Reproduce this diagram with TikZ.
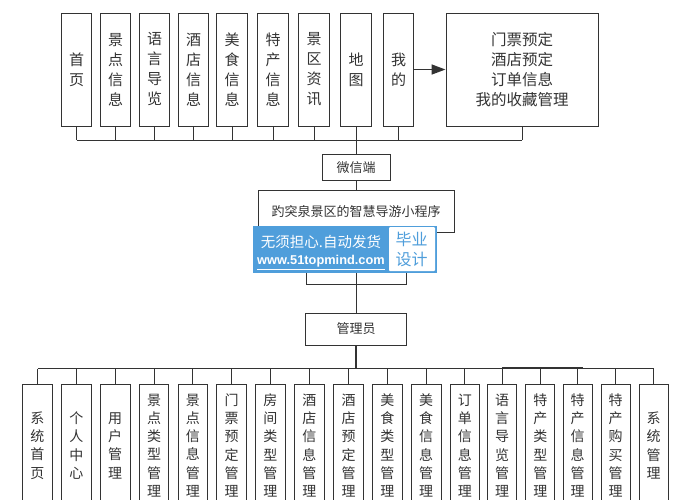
\documentclass[tikz,border=0pt]{standalone}
\usepackage{fontspec}
\setmainfont{Noto Sans CJK SC}
\newfontfamily\urlfont{Liberation Sans}
\usetikzlibrary{arrows.meta}
\definecolor{edge}{HTML}{333333}
\definecolor{wm}{HTML}{4F9EDB}
\tikzset{
  x=1pt,y=-1pt,
  boxbase/.style={draw=edge,line width=1pt,fill=white,inner sep=0pt,align=center,text=black!80},
  topbox/.style={boxbase,minimum height=113pt,font=\fontsize{15}{20}\selectfont},
  botbox/.style={boxbase,minimum height=123pt,font=\fontsize{14}{18.3}\selectfont},
  midbox/.style={boxbase,font=\fontsize{13}{16}\selectfont},
  link/.style={draw=edge,line width=1pt},
  wmtext/.style={inner sep=0pt,text=white}
}
\newcommand{\tb}[4]{\node[topbox,minimum width=#2pt] (#1) at (#3,69.5) {#4};}
\newcommand{\bb}[4]{\node[botbox,minimum width=#2pt] (#1) at (#3,445.5) {#4};}
\begin{document}
\begin{tikzpicture}
\useasboundingbox (0,0) rectangle (691,499);
\clip (0,0) rectangle (691,499);
\fill[white] (0,0) rectangle (691,499);
% top row
\tb{t1}{30.5}{76.5}{首\\页}
\tb{t2}{30.5}{115.5}{景\\点\\信\\息}
\tb{t3}{30.5}{154.5}{语\\言\\导\\览}
\tb{t4}{30.5}{193.5}{酒\\店\\信\\息}
\tb{t5}{30.5}{232}{美\\食\\信\\息}
\tb{t6}{30.5}{273}{特\\产\\信\\息}
\tb{t7}{30.5}{314}{景\\区\\资\\讯}
\tb{t8}{30.5}{356}{地\\图}
\tb{t9}{30.5}{398.5}{我\\的}
\node[topbox,minimum width=152pt,font=\fontsize{15.5}{20}\selectfont] (big) at (522,69.5) {门票预定\\酒店预定\\订单信息\\我的收藏管理};
% middle
\node[midbox,minimum width=68pt,minimum height=26.5pt] (wx) at (356,167.3) {微信端};
\node[midbox,minimum width=196pt,minimum height=41.5pt] (title) at (356,211.4) {趵突泉景区的智慧导游小程序};
\node[midbox,minimum width=100.5pt,minimum height=32pt] (mgr) at (356,329) {管理员};
% bottom row
\bb{b1}{30}{37.5}{系\\统\\首\\页}
\bb{b2}{30}{76.3}{个\\人\\中\\心}
\bb{b3}{30}{115.2}{用\\户\\管\\理}
\bb{b4}{29.5}{154}{景\\点\\类\\型\\管\\理}
\bb{b5}{29.5}{192.8}{景\\点\\信\\息\\管\\理}
\bb{b6}{30}{231.5}{门\\票\\预\\定\\管\\理}
\bb{b7}{29.5}{270.3}{房\\间\\类\\型\\管\\理}
\bb{b8}{29.5}{309.3}{酒\\店\\信\\息\\管\\理}
\bb{b9}{30}{348.5}{酒\\店\\预\\定\\管\\理}
\bb{b10}{30}{387.3}{美\\食\\类\\型\\管\\理}
\bb{b11}{29.7}{426.2}{美\\食\\信\\息\\管\\理}
\bb{b12}{29.5}{464.8}{订\\单\\信\\息\\管\\理}
\bb{b13}{28.5}{502}{语\\言\\导\\览\\管\\理}
\bb{b14}{29.3}{540.3}{特\\产\\类\\型\\管\\理}
\bb{b15}{28.7}{577.7}{特\\产\\信\\息\\管\\理}
\bb{b16}{28.7}{615.7}{特\\产\\购\\买\\管\\理}
\bb{b17}{28.7}{653.7}{系\\统\\管\\理}
% bus coordinates
\coordinate (topbus) at (0,140);
\coordinate (botbus) at (0,368.5);
\coordinate (splitL) at (306,284);
\coordinate (splitR) at (406,284);
% top connectors
\foreach \n in {t1,t2,t3,t4,t5,t6,t7,t9,big}
  \draw[link] (\n.south) -- (\n.south |- topbus);
\draw[link] (t1.south |- topbus) -- (big.south |- topbus);
\draw[link] (t8.south) -- (wx.north);
\draw[link] (wx.south) -- (title.north);
\draw[link,line width=1.6pt,-{Triangle[length=14pt,width=10pt]}] (t9.east) -- (big.west);
% middle connectors
\draw[link] (title.south -| splitL) -- (splitL) -- (splitR) -- (title.south -| splitR);
\draw[link] (title.south) -- (mgr.north);
\draw[link,line width=2pt] (mgr.south) -- (mgr.south |- botbus);
% bottom connectors
\foreach \n in {b1,b2,b3,b4,b5,b6,b7,b8,b9,b10,b11,b12,b13,b14,b15,b16,b17}
  \draw[link] (\n.north) -- (\n.north |- botbus);
\draw[link] (b1.north |- botbus) -- (b17.north |- botbus);
\draw[link,line width=1.6pt] (b13.north |- 0,367.8) -- (583,367.8);
% watermark
\node[fill=wm,minimum width=184pt,minimum height=46.7pt,inner sep=0pt] (wmbg) at (345,249.3) {};
\node[fill=white,rounded corners=1pt,minimum width=46pt,minimum height=44pt,inner sep=0pt] (wmbox) at (412,249) {};
\node[wmtext,font=\fontsize{14.5}{16}\selectfont] (wm1) at (321,241.7) {无须担心.自动发货};
\node[wmtext,font=\urlfont\bfseries\fontsize{12.8}{15}\selectfont] (wm2) at (321,262.5) {\underline{www.51topmind.com}};
\node[inner sep=0pt,text=wm,align=center,font=\fontsize{16}{19.5}\selectfont] (wm3) at (411.5,249.5) {毕业\\设计};
\end{tikzpicture}
\end{document}
